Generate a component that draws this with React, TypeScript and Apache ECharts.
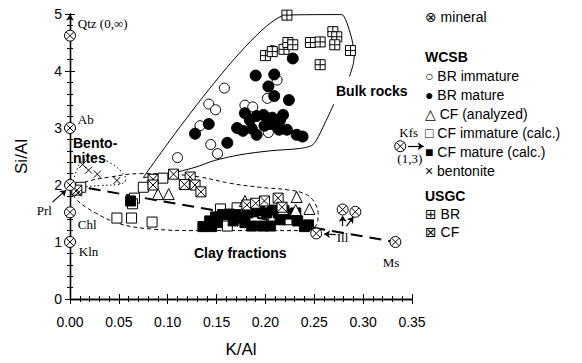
import React, { useEffect, useRef } from "react";
import * as echarts from "echarts";

// ---------- data (K/Al, Si/Al) ----------
const brImmature = [
  [0.158, 3.7], [0.142, 3.42], [0.149, 3.32], [0.133, 3.04], [0.144, 2.71], [0.151, 2.55],
  [0.11, 2.48], [0.212, 3.84], [0.202, 3.52], [0.179, 3.4], [0.187, 3.37], [0.203, 2.92], [0.207, 4.36],
];
const brMature = [
  [0.228, 4.22], [0.19, 3.92], [0.209, 3.94], [0.203, 3.73], [0.209, 3.56], [0.224, 3.49],
  [0.179, 3.26], [0.191, 3.21], [0.198, 3.23], [0.207, 3.18], [0.218, 3.23], [0.205, 3.07],
  [0.212, 3.04], [0.171, 3.0], [0.177, 2.95], [0.191, 2.88], [0.214, 2.97], [0.222, 2.97],
  [0.232, 2.88], [0.238, 2.85], [0.142, 3.07], [0.128, 2.9], [0.161, 2.74], [0.184, 3.14],
  [0.199, 3.04], [0.186, 2.99], [0.215, 3.14],
];
const cfAnalyzed = [
  [0.09, 1.84], [0.101, 1.84], [0.179, 1.72], [0.232, 1.79], [0.218, 1.58], [0.231, 1.56], [0.245, 1.58],
];
const cfImmature = [
  [0.011, 1.96], [0.075, 1.96], [0.095, 2.12], [0.066, 1.77], [0.064, 1.67], [0.048, 1.42],
  [0.063, 1.42], [0.084, 1.35], [0.154, 1.58], [0.171, 1.6], [0.161, 1.28], [0.222, 1.39],
];
const cfMature = [
  [0.136, 1.27], [0.143, 1.37], [0.149, 1.44], [0.156, 1.48], [0.163, 1.49], [0.17, 1.48],
  [0.176, 1.42], [0.182, 1.51], [0.188, 1.53], [0.194, 1.55], [0.201, 1.51], [0.207, 1.56],
  [0.213, 1.51], [0.219, 1.55], [0.225, 1.49], [0.179, 1.34], [0.167, 1.37], [0.145, 1.27],
  [0.186, 1.28], [0.197, 1.28], [0.205, 1.28], [0.215, 1.39], [0.231, 1.51], [0.233, 1.37],
  [0.24, 1.27], [0.244, 1.3], [0.062, 1.72], [0.151, 1.34],
];
const bentonite = [[0.013, 2.36], [0.019, 2.26], [0.028, 2.19], [0.048, 2.08], [0.008, 1.86]];
const usgcBR = [
  [0.222, 4.98], [0.2, 4.27], [0.207, 4.34], [0.219, 4.38], [0.223, 4.5], [0.228, 4.46],
  [0.246, 4.5], [0.256, 4.51], [0.269, 4.69], [0.273, 4.6], [0.271, 4.46], [0.287, 4.36], [0.256, 4.11],
];
const usgcCF = [
  [0.007, 1.91], [0.085, 2.1], [0.085, 2.0], [0.106, 2.19], [0.123, 2.14], [0.117, 2.01],
  [0.128, 2.0], [0.134, 1.88], [0.181, 1.65], [0.19, 1.68], [0.199, 1.72], [0.213, 1.77], [0.217, 1.61],
];
const minerals = [
  [0, 4.62], [0, 3.0], [0, 2.0], [0, 1.52], [0, 1.0], [0.333, 1.0],
  [0.252, 1.15], [0.279, 1.57], [0.292, 1.53], [0.338, 2.68],
];
const mineralLabels = [
  { t: "Qtz (0,∞)", p: [0.008, 4.83] },
  { t: "Ab", p: [0.008, 3.15] },
  { t: "Prl", p: [-0.034, 1.56] },
  { t: "Chl", p: [0.008, 1.31] },
  { t: "Kln", p: [0.009, 0.83] },
  { t: "Ms", p: [0.32, 0.64] },
  { t: "Ill", p: [0.273, 1.08] },
  { t: "Kfs", p: [0.337, 2.92] },
  { t: "(1,3)", p: [0.335, 2.46] },
];
const bulkUpper = [
  [0.075, 2.13], [0.221, 4.98], [0.278, 4.99], [0.287, 4.65], [0.291, 4.3], [0.29, 4.13], [0.286, 3.9],
];
const bulkLower = [
  [0.27, 3.42], [0.261, 3.09], [0.252, 2.78], [0.247, 2.69], [0.235, 2.64], [0.205, 2.6],
  [0.174, 2.53], [0.148, 2.43], [0.128, 2.31], [0.102, 2.2], [0.075, 2.13],
];
const clayEnvelope = [
  [0.002, 1.93], [0.015, 2.05], [0.041, 2.14], [0.072, 2.2], [0.102, 2.19], [0.133, 2.14],
  [0.164, 2.03], [0.194, 1.96], [0.225, 1.91], [0.241, 1.84], [0.25, 1.7], [0.254, 1.48],
  [0.251, 1.27], [0.241, 1.2], [0.194, 1.2], [0.133, 1.2], [0.082, 1.23], [0.051, 1.32],
  [0.026, 1.51], [0.008, 1.72], [0.002, 1.86],
];
const bentoniteEnvelope = [
  [0.002, 1.93], [0.006, 2.22], [0.014, 2.43], [0.026, 2.48], [0.039, 2.41], [0.051, 2.26],
  [0.057, 2.1], [0.049, 2.01], [0.031, 1.99], [0.015, 1.96], [0.004, 1.89],
];
const trendLine = [[0, 2.0], [0.333, 1.0]];
const arrows = [
  [[0, 4.72], [0, 4.99]],
  [[-0.018, 1.7], [-0.004, 1.91]],
  [[0.346, 2.68], [0.362, 2.68]],
  [[0.272, 1.13], [0.26, 1.14]],
  [[0.279, 1.28], [0.279, 1.46]],
  [[0.283, 1.28], [0.29, 1.44]],
];
const xTicks = { min: 0, max: 0.35, interval: 0.05 };
const yTicks = { min: 0, max: 5, interval: 1 };
const legendRows = [
  { t: "⊗ mineral", y: 17, b: false },
  { t: "WCSB", y: 57, b: true },
  { t: "○ BR immature", y: 76, b: false },
  { t: "● BR mature", y: 95, b: false },
  { t: "△ CF (analyzed)", y: 114, b: false },
  { t: "□ CF immature (calc.)", y: 133, b: false },
  { t: "■ CF mature (calc.)", y: 152, b: false },
  { t: "× bentonite", y: 171, b: false },
  { t: "USGC", y: 196, b: true },
  { t: "⊞ BR", y: 214, b: false },
  { t: "⊠ CF", y: 232, b: false },
];
const regionLabels = [
  { t: "Bento-", x: 73, y: 143 },
  { t: "nites", x: 73, y: 158 },
  { t: "Bulk rocks", x: 336, y: 91 },
  { t: "Clay fractions", x: 194, y: 253 },
];

const OTIMES = "path://M10 5A5 5 0 1 1 0 5A5 5 0 1 1 10 5ZM1.6 1.6L8.4 8.4M8.4 1.6L1.6 8.4";
const BOXPLUS = "path://M0 0H10V10H0ZM5 0V10M0 5H10";
const BOXTIMES = "path://M0 0H10V10H0ZM0 0L10 10M10 0L0 10";
const CROSS = "path://M0 0L10 10M10 0L0 10";

export default function App() {
  const ref = useRef<HTMLDivElement>(null);
  useEffect(() => {
    document.body.style.margin = "0";
    const chart = echarts.init(ref.current!, null, { renderer: "svg" });
    const sans = "Liberation Sans, Arial, DejaVu Sans, sans-serif";
    const serif = "Liberation Serif, DejaVu Serif, serif";
    const axisCommon = {
      axisLine: { lineStyle: { color: "#000", width: 1.3 } },
      axisTick: { show: true, length: 5, lineStyle: { color: "#000" } },
      minorTick: { show: true, splitNumber: 5, length: 3, lineStyle: { color: "#000" } },
      splitLine: { show: false },
    };
    const scatter = (data: number[][], symbol: string, size: number, fill: string, extra: any = {}) => ({
      type: "scatter",
      data,
      symbol,
      symbolSize: size,
      itemStyle: { color: fill, borderColor: "#000", borderWidth: 1, opacity: 1 },
      z: 5,
      ...extra,
    });
    const line = (data: number[][], type: any, width = 1, smooth: any = 0.3) => ({
      type: "line",
      data,
      symbol: "none",
      smooth,
      lineStyle: { color: "#000", width, type, opacity: 1 },
      z: 3,
      silent: true,
    });
    const option: any = {
      animation: false,
      grid: { left: 70, right: 170, top: 14, bottom: 60, containLabel: false },
      xAxis: [
        {
          type: "value", ...xTicks, ...axisCommon, position: "bottom",
          name: "K/Al", nameLocation: "middle", nameGap: 42,
          nameTextStyle: { fontFamily: sans, fontSize: 17, color: "#000" },
          axisLabel: {
            color: "#000", fontFamily: sans, fontSize: 14, margin: 16,
            formatter: (v: number) => v.toFixed(2),
          },
        },
        { type: "value", ...xTicks, ...axisCommon, position: "top", axisLabel: { show: false } },
      ],
      yAxis: [
        {
          type: "value", ...yTicks, ...axisCommon, position: "left",
          name: "Si/Al", nameLocation: "middle", nameGap: 40, nameRotate: 90,
          nameTextStyle: { fontFamily: sans, fontSize: 17, color: "#000" },
          axisLabel: { color: "#000", fontFamily: sans, fontSize: 14, margin: 8 },
        },
        { type: "value", ...yTicks, ...axisCommon, position: "right", axisLabel: { show: false } },
      ],
      series: [
        line(bulkUpper, "solid", 1, 0.2),
        line(bulkLower, "solid", 1, 0.3),
        line(clayEnvelope, [4, 3], 1, 0.4),
        line(bentoniteEnvelope, [1.5, 2.5], 1, 0.5),
        line(trendLine, [12, 7], 2, false),
        scatter(brImmature, "circle", 10, "#fff"),
        scatter(brMature, "circle", 11, "#000"),
        scatter(usgcBR, BOXPLUS, 10, "#fff"),
        scatter(cfImmature, "rect", 10, "#fff"),
        scatter(cfMature, "rect", 10, "#000"),
        scatter(cfAnalyzed, "triangle", 11, "#fff"),
        scatter(usgcCF, BOXTIMES, 10, "#fff"),
        scatter(bentonite, CROSS, 7, "none"),
        scatter(minerals, OTIMES, 11, "#fff", { z: 6 }),
        {
          type: "lines",
          coordinateSystem: "cartesian2d",
          clip: false,
          symbol: ["none", "arrow"],
          symbolSize: 6,
          lineStyle: { color: "#000", width: 1.2, opacity: 1 },
          data: arrows.map((c) => ({ coords: c })),
          z: 7,
          silent: true,
        },
        {
          type: "scatter",
          data: mineralLabels.map((m) => ({ value: m.p, name: m.t })),
          symbolSize: 0,
          clip: false,
          z: 8,
          itemStyle: { opacity: 1 },
          label: {
            show: true, position: "inside", formatter: (p: any) => p.name, opacity: 1,
            fontFamily: serif, fontSize: 13, color: "#000", align: "left",
            textBorderWidth: 0, textBorderColor: "transparent",
          },
          silent: true,
        },
      ],
      graphic: [
        ...regionLabels.map((r) => ({
          type: "text", x: r.x, y: r.y, z: 100,
          style: {
            text: r.t, fill: "#000", fontFamily: sans, fontSize: 14, fontWeight: "bold",
            align: "left", verticalAlign: "middle",
          },
        })),
        ...legendRows.map((r) => ({
          type: "text", x: 425, y: r.y, z: 100,
          style: {
            text: r.t, fill: "#000", fontFamily: sans, fontSize: 14, fontWeight: r.b ? "bold" : "normal",
            align: "left", verticalAlign: "middle",
          },
        })),
      ],
    };
    chart.setOption(option);
    return () => chart.dispose();
  }, []);
  return <div ref={ref} style={{ width: 582, height: 363 }} />;
}
